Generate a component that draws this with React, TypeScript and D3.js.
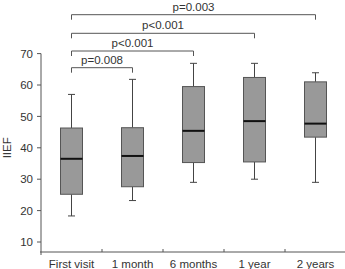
import * as d3 from "d3";
import React, { useRef, useEffect } from "react";

// IIEF score distribution per visit
const visits = ["First visit", "1 month", "6 months", "1 year", "2 years"];
const mins = [18.3, 23.2, 29, 30, 29];
const q1s = [25.2, 27.6, 35.3, 35.5, 43.4];
const medians = [36.5, 37.4, 45.4, 48.5, 47.7];
const q3s = [46.3, 46.4, 59.5, 62.4, 61];
const maxs = [57, 61.8, 66.9, 66.9, 63.9];

const yTicks = [10, 20, 30, 40, 50, 60, 70];

// comparisons against the first visit
const compareTo = ["1 month", "6 months", "1 year", "2 years"];
const pLabels = ["p=0.008", "p<0.001", "p<0.001", "p=0.003"];
const bracketLevels = [67.7, 51, 33.3, 14.7];

const App = () => {
  const ref = useRef<SVGSVGElement>(null);

  useEffect(() => {
    if (!ref.current) return;
    const width = 345;
    const height = 269;
    const left = 41;
    const bottom = 252;
    const font = "'Liberation Sans', Arial, Helvetica, sans-serif";
    const textColor = "#333";
    const axisColor = "#555";

    const svg = d3.select(ref.current).attr("width", width).attr("height", height);
    svg.selectAll("*").remove();

    const x = d3.scaleBand().domain(visits).range([left, 346]).padding(0);
    const y = d3.scaleLinear().domain([10, 70]).range([242, 53.6]);
    const cx = (v: string) => (x(v) ?? 0) + x.bandwidth() / 2;

    // y axis
    svg
      .append("line")
      .attr("x1", left)
      .attr("x2", left)
      .attr("y1", y(70))
      .attr("y2", bottom + 3)
      .attr("stroke", axisColor);
    yTicks.forEach((t) => {
      svg
        .append("line")
        .attr("x1", left - 4)
        .attr("x2", left)
        .attr("y1", y(t))
        .attr("y2", y(t))
        .attr("stroke", axisColor);
      svg
        .append("text")
        .attr("x", left - 8)
        .attr("y", y(t))
        .attr("dy", "0.36em")
        .attr("text-anchor", "end")
        .attr("font-family", font)
        .attr("font-size", 11.5)
        .attr("fill", textColor)
        .text(t);
    });
    svg
      .append("text")
      .attr("transform", `translate(11,${y(40)}) rotate(-90)`)
      .attr("text-anchor", "middle")
      .attr("font-family", font)
      .attr("font-size", 11.5)
      .attr("fill", textColor)
      .text("IIEF");

    // x axis
    svg
      .append("line")
      .attr("x1", left - 1)
      .attr("x2", 345)
      .attr("y1", bottom)
      .attr("y2", bottom)
      .attr("stroke", axisColor);
    visits.slice(1).forEach((v) => {
      svg
        .append("line")
        .attr("x1", x(v) ?? 0)
        .attr("x2", x(v) ?? 0)
        .attr("y1", bottom)
        .attr("y2", bottom - 3)
        .attr("stroke", axisColor);
    });
    visits.forEach((v) => {
      svg
        .append("text")
        .attr("x", cx(v))
        .attr("y", 268)
        .attr("text-anchor", "middle")
        .attr("font-family", font)
        .attr("font-size", 11.5)
        .attr("fill", textColor)
        .text(v);
    });

    // boxes
    const boxW = 22;
    visits.forEach((v, i) => {
      const c = cx(v);
      const g = svg.append("g");
      g.append("line")
        .attr("x1", c)
        .attr("x2", c)
        .attr("y1", y(maxs[i]))
        .attr("y2", y(q3s[i]))
        .attr("stroke", "#444");
      g.append("line")
        .attr("x1", c)
        .attr("x2", c)
        .attr("y1", y(q1s[i]))
        .attr("y2", y(mins[i]))
        .attr("stroke", "#444");
      [maxs[i], mins[i]].forEach((w) => {
        g.append("line")
          .attr("x1", c - 3.5)
          .attr("x2", c + 3.5)
          .attr("y1", y(w))
          .attr("y2", y(w))
          .attr("stroke", "#444");
      });
      g.append("rect")
        .attr("x", c - boxW / 2)
        .attr("y", y(q3s[i]))
        .attr("width", boxW)
        .attr("height", y(q1s[i]) - y(q3s[i]))
        .attr("fill", "#999")
        .attr("stroke", "#555");
      g.append("line")
        .attr("x1", c - boxW / 2)
        .attr("x2", c + boxW / 2)
        .attr("y1", y(medians[i]))
        .attr("y2", y(medians[i]))
        .attr("stroke", "#111")
        .attr("stroke-width", 2);
    });

    // significance brackets
    const x0 = cx(visits[0]);
    compareTo.forEach((v, i) => {
      const x1 = cx(v);
      const by = bracketLevels[i];
      svg
        .append("path")
        .attr("d", `M${x0},${by + 5}V${by}H${x1}V${by + 5}`)
        .attr("fill", "none")
        .attr("stroke", axisColor);
      svg
        .append("text")
        .attr("x", (x0 + x1) / 2)
        .attr("y", by - 4)
        .attr("text-anchor", "middle")
        .attr("font-family", font)
        .attr("font-size", 11.5)
        .attr("fill", textColor)
        .text(pLabels[i]);
    });
  }, []);

  return (
    <div style={{ position: "absolute", left: 0, top: 0 }}>
      <svg ref={ref} style={{ display: "block" }} />
    </div>
  );
};

export default App;
